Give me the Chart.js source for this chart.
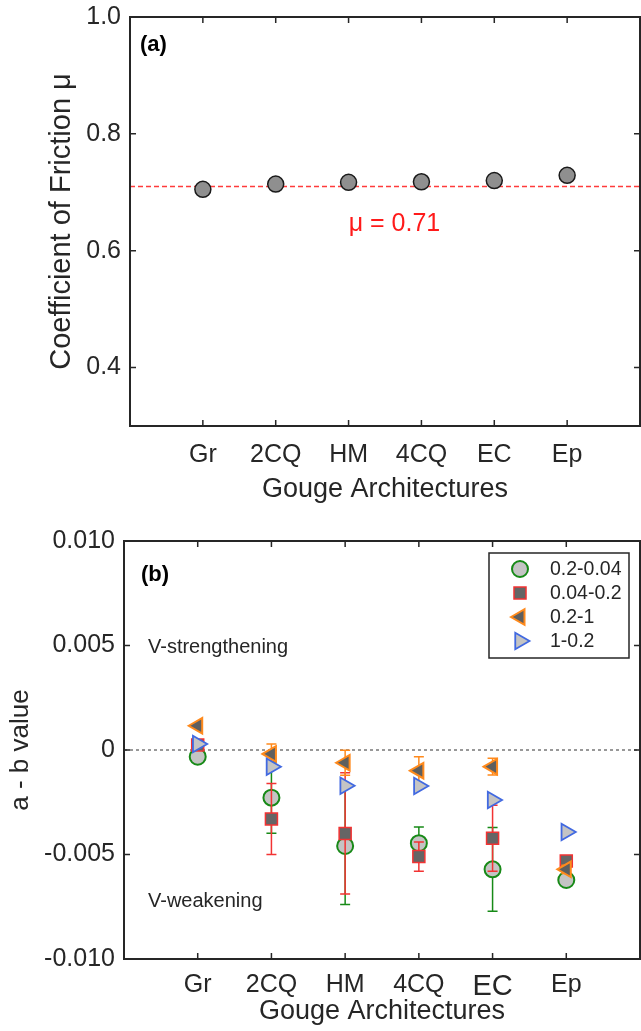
<!DOCTYPE html>
<html>
<head>
<meta charset="utf-8">
<script src="https://cdn.jsdelivr.net/npm/chart.js@4.4.1/dist/chart.umd.min.js"></script>
<style>
  html, body { margin: 0; padding: 0; background: #fff; overflow: hidden; }
  canvas { display: block; }
</style>
</head>
<body>
<canvas id="frictionChart" width="641" height="515"></canvas>
<canvas id="rateChart" width="641" height="516"></canvas>
<script>
// gouge architectures, placed at x = 1..6
var categories = ["Gr", "2CQ", "HM", "4CQ", "EC", "Ep"];

// (a) friction coefficient
var frictionValues = [0.705, 0.714, 0.717, 0.718, 0.720, 0.729];
var frictionMean = 0.71;
var frictionTicks = [0.4, 0.6, 0.8, 1.0];

// (b) a - b values per velocity step
var stepLabels = ["0.2-0.04", "0.04-0.2", "0.2-1", "1-0.2"];
var abStep1 = [-0.00032, -0.00228, -0.00459, -0.00446, -0.00571, -0.00622];
var abStep1Err = [0.0001, 0.0017, 0.0028, 0.00077, 0.002, 0.0003];
var abStep2 = [0.00024, -0.0033, -0.00399, -0.0051, -0.00422, -0.00531];
var abStep2Err = [0.0002, 0.0017, 0.0029, 0.0007, 0.00158, 0.0002];
var abStep3 = [0.00116, -0.00019, -0.00061, -0.00099, -0.0008, -0.00571];
var abStep3Err = [0.0001, 0.00048, 0.0006, 0.00067, 0.0004, 0.0002];
var abStep4 = [0.00029, -0.0008, -0.00171, -0.00172, -0.00239, -0.00392];
var abTicks = [-0.010, -0.005, 0, 0.005, 0.010];
var abTickLabels = ["-0.010", "-0.005", "0", "0.005", "0.010"];

var FONT = "'Liberation Sans', Arial, Helvetica, sans-serif";
var INK = "#262626";

function toPoints(arr) {
    return arr.map(function (v, i) { return { x: i + 1, y: v }; });
}

// keep the axes box exactly where the layout padding puts it
function noScalePadding(s) {
    s.paddingLeft = 0;
    s.paddingRight = 0;
    s.paddingTop = 0;
    s.paddingBottom = 0;
}

// matlab style box with inward ticks on all four sides
var framePlugin = {
    id: "matlabFrame",
    afterDatasetsDraw: function (chart) {
        var ctx = chart.ctx, a = chart.chartArea;
        var xs = chart.scales.x, ys = chart.scales.y;
        ctx.save();
        ctx.strokeStyle = INK;
        ctx.lineWidth = 1.5;
        ctx.beginPath();
        xs.ticks.forEach(function (t) {
            var px = xs.getPixelForValue(t.value);
            ctx.moveTo(px, a.top); ctx.lineTo(px, a.top + 6);
            ctx.moveTo(px, a.bottom); ctx.lineTo(px, a.bottom - 6);
        });
        ys.ticks.forEach(function (t) {
            var py = ys.getPixelForValue(t.value);
            ctx.moveTo(a.left, py); ctx.lineTo(a.left + 6, py);
            ctx.moveTo(a.right, py); ctx.lineTo(a.right - 6, py);
        });
        ctx.stroke();
        ctx.lineWidth = 2;
        ctx.strokeRect(a.left, a.top, a.right - a.left, a.bottom - a.top);
        ctx.restore();
    }
};

// error bars, drawn right before each dataset's markers
var errorBarPlugin = {
    id: "errorBars",
    beforeDatasetDraw: function (chart, args) {
        var ds = chart.data.datasets[args.index];
        if (!ds.errors) return;
        var ctx = chart.ctx, xs = chart.scales.x, ys = chart.scales.y;
        ctx.save();
        ctx.strokeStyle = ds.pointBorderColor;
        ctx.lineWidth = 1.5;
        ctx.beginPath();
        ds.data.forEach(function (p, i) {
            var e = ds.errors[i];
            var px = xs.getPixelForValue(p.x);
            var hi = ys.getPixelForValue(p.y + e);
            var lo = ys.getPixelForValue(p.y - e);
            ctx.moveTo(px, hi); ctx.lineTo(px, lo);
            ctx.moveTo(px - 5, hi); ctx.lineTo(px + 5, hi);
            ctx.moveTo(px - 5, lo); ctx.lineTo(px + 5, lo);
        });
        ctx.stroke();
        ctx.restore();
    }
};

var frictionNotes = {
    id: "frictionNotes",
    beforeDatasetsDraw: function (chart) {
        var ctx = chart.ctx, a = chart.chartArea, ys = chart.scales.y;
        var py = ys.getPixelForValue(frictionMean);
        ctx.save();
        ctx.strokeStyle = "#ff3b3b";
        ctx.lineWidth = 1.5;
        ctx.setLineDash([5, 3]);
        ctx.beginPath();
        ctx.moveTo(a.left, py); ctx.lineTo(a.right, py);
        ctx.stroke();
        ctx.restore();
    },
    afterDraw: function (chart) {
        var ctx = chart.ctx, a = chart.chartArea;
        var xs = chart.scales.x, ys = chart.scales.y;
        ctx.save();
        ctx.textBaseline = "middle";
        ctx.fillStyle = "#ff1a1a";
        ctx.font = "25px " + FONT;
        ctx.textAlign = "center";
        ctx.fillText("\u03bc = " + frictionMean.toFixed(2), xs.getPixelForValue(3.63), ys.getPixelForValue(0.6455));
        ctx.fillStyle = "#000";
        ctx.font = "bold 22px " + FONT;
        ctx.textAlign = "left";
        ctx.fillText("(a)", a.left + 10, a.top + 28);
        ctx.restore();
    }
};

var rateNotes = {
    id: "rateNotes",
    beforeDatasetsDraw: function (chart) {
        var ctx = chart.ctx, a = chart.chartArea, ys = chart.scales.y;
        var py = ys.getPixelForValue(0);
        ctx.save();
        ctx.strokeStyle = "#333";
        ctx.lineWidth = 1;
        ctx.setLineDash([3, 3]);
        ctx.beginPath();
        ctx.moveTo(a.left, py); ctx.lineTo(a.right, py);
        ctx.stroke();
        ctx.restore();
    },
    afterDraw: function (chart) {
        var ctx = chart.ctx, a = chart.chartArea, ys = chart.scales.y;
        ctx.save();
        ctx.textBaseline = "middle";
        ctx.textAlign = "left";
        ctx.fillStyle = "#000";
        ctx.font = "bold 22px " + FONT;
        ctx.fillText("(b)", a.left + 17, a.top + 34);
        ctx.fillStyle = INK;
        ctx.font = "20px " + FONT;
        ctx.fillText("V-strengthening", a.left + 24, ys.getPixelForValue(0.0049));
        ctx.fillText("V-weakening", a.left + 24, ys.getPixelForValue(-0.00727));

        // legend box, top right inside the axes
        var bw = 140, bh = 105;
        var bx = a.right - 151, by = a.top + 12;
        ctx.fillStyle = "#fff";
        ctx.fillRect(bx, by, bw, bh);
        ctx.strokeStyle = INK;
        ctx.lineWidth = 1.5;
        ctx.strokeRect(bx, by, bw, bh);
        chart.data.datasets.forEach(function (ds, i) {
            var ry = by + 16 + i * 24;
            ctx.fillStyle = ds.pointBackgroundColor;
            ctx.strokeStyle = ds.pointBorderColor;
            ctx.lineWidth = ds.pointBorderWidth;
            Chart.helpers.drawPoint(ctx, {
                pointStyle: ds.pointStyle,
                rotation: ds.pointRotation || 0,
                radius: ds.pointRadius,
                borderWidth: ds.pointBorderWidth
            }, bx + 31, ry);
            ctx.fillStyle = INK;
            ctx.font = "19.5px " + FONT;
            ctx.fillText(ds.label, bx + 61, ry + 1);
        });
        ctx.restore();
    }
};

// panel (a)
new Chart(document.getElementById("frictionChart"), {
    type: "scatter",
    data: {
        datasets: [{
            label: "friction",
            data: toPoints(frictionValues),
            pointStyle: "circle",
            pointRadius: 8,
            pointBackgroundColor: "#8f8f8f",
            pointBorderColor: "#1a1a1a",
            pointBorderWidth: 1.5
        }]
    },
    options: {
        responsive: false,
        animation: false,
        layout: { autoPadding: false, padding: { top: 17, right: 1, bottom: 0, left: 0 } },
        plugins: { legend: { display: false }, tooltip: { enabled: false } },
        scales: {
            x: {
                type: "linear", min: 0, max: 7,
                grid: { display: false, drawTicks: false },
                border: { display: false },
                afterBuildTicks: function (s) {
                    s.ticks = categories.map(function (c, i) { return { value: i + 1 }; });
                },
                afterFit: function (s) { s.height = 89; noScalePadding(s); },
                ticks: {
                    autoSkip: false, maxRotation: 0, padding: 14, color: INK,
                    font: { family: FONT, size: 25 },
                    callback: function (v) { return categories[v - 1] || ""; }
                },
                title: {
                    display: true, text: "Gouge Architectures", color: INK,
                    font: { family: FONT, size: 27 }, padding: { top: 0, bottom: 9 }
                }
            },
            y: {
                min: 0.3, max: 1.0,
                grid: { display: false, drawTicks: false },
                border: { display: false },
                afterBuildTicks: function (s) {
                    s.ticks = frictionTicks.map(function (v) { return { value: v }; });
                },
                afterFit: function (s) { s.width = 130; noScalePadding(s); },
                ticks: {
                    padding: 9, color: INK,
                    font: { family: FONT, size: 25 },
                    callback: function (v) { return v.toFixed(1); }
                },
                title: {
                    display: true, text: "Coefficient of Friction \u03bc", color: INK,
                    font: { family: FONT, size: 29 }, padding: { top: 45, bottom: 0 }
                }
            }
        }
    },
    plugins: [framePlugin, frictionNotes]
});

// panel (b)
new Chart(document.getElementById("rateChart"), {
    type: "scatter",
    data: {
        datasets: [{
            label: stepLabels[0],
            data: toPoints(abStep1),
            errors: abStep1Err,
            order: 4,
            pointStyle: "circle",
            pointRadius: 8,
            pointBackgroundColor: "#c4c4c4",
            pointBorderColor: "#178a17",
            pointBorderWidth: 2
        }, {
            label: stepLabels[1],
            data: toPoints(abStep2),
            errors: abStep2Err,
            order: 3,
            pointStyle: "rect",
            pointRadius: 8.5,
            pointBackgroundColor: "#656565",
            pointBorderColor: "#f23333",
            pointBorderWidth: 1.5
        }, {
            label: stepLabels[2],
            data: toPoints(abStep3),
            errors: abStep3Err,
            order: 2,
            pointStyle: "triangle",
            pointRotation: -90,
            pointRadius: 9,
            pointBackgroundColor: "#5f5f5f",
            pointBorderColor: "#ff8a1c",
            pointBorderWidth: 2
        }, {
            label: stepLabels[3],
            data: toPoints(abStep4),
            order: 1,
            pointStyle: "triangle",
            pointRotation: 90,
            pointRadius: 9.5,
            pointBackgroundColor: "#c4c4c4",
            pointBorderColor: "#4169e1",
            pointBorderWidth: 1.8
        }]
    },
    options: {
        responsive: false,
        animation: false,
        layout: { autoPadding: false, padding: { top: 26, right: 1, bottom: 0, left: 0 } },
        plugins: { legend: { display: false }, tooltip: { enabled: false } },
        scales: {
            x: {
                type: "linear", min: 0, max: 7,
                grid: { display: false, drawTicks: false },
                border: { display: false },
                afterBuildTicks: function (s) {
                    s.ticks = categories.map(function (c, i) { return { value: i + 1 }; });
                },
                afterFit: function (s) { s.height = 72; noScalePadding(s); },
                ticks: {
                    autoSkip: false, maxRotation: 0, padding: 11, color: INK,
                    font: function (c) {
                        // the EC label is set larger in the original figure
                        return { family: FONT, size: (c.tick && c.tick.value === 5) ? 29 : 25 };
                    },
                    callback: function (v) { return categories[v - 1] || ""; }
                },
                title: {
                    display: true, text: "Gouge Architectures", color: INK,
                    font: { family: FONT, size: 27 }, padding: { top: 0, bottom: 3 }
                }
            },
            y: {
                min: -0.01, max: 0.01,
                grid: { display: false, drawTicks: false },
                border: { display: false },
                afterBuildTicks: function (s) {
                    s.ticks = abTicks.map(function (v) { return { value: v }; });
                },
                afterFit: function (s) { s.width = 124; noScalePadding(s); },
                ticks: {
                    padding: 9, color: INK,
                    font: { family: FONT, size: 25 },
                    callback: function (v, i) { return abTickLabels[i]; }
                },
                title: {
                    display: true, text: "a - b value", color: INK,
                    font: { family: FONT, size: 26 }, padding: { top: 5, bottom: 0 }
                }
            }
        }
    },
    plugins: [framePlugin, errorBarPlugin, rateNotes]
});
</script>
</body>
</html>
